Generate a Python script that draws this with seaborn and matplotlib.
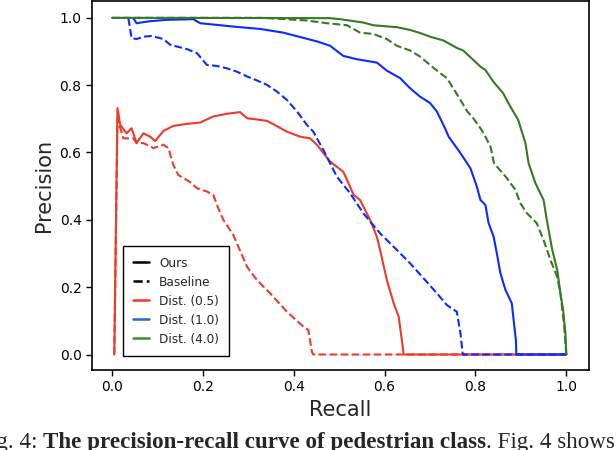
import numpy as np
import pandas as pd
import matplotlib
matplotlib.use("Agg")
import matplotlib.pyplot as plt
from matplotlib.lines import Line2D
import seaborn as sns

# values
ours_05_r = [0.005, 0.012, 0.018, 0.032, 0.043, 0.054, 0.069, 0.084, 0.095, 0.113, 0.135, 0.165, 0.194,
             0.223, 0.253, 0.282, 0.297, 0.341, 0.355, 0.385, 0.414, 0.436, 0.451, 0.480, 0.509, 0.532,
             0.546, 0.568, 0.583, 0.590, 0.605, 0.620, 0.631, 0.638, 0.642, 1.0]
ours_05_p = [0.0, 0.732, 0.682, 0.657, 0.672, 0.628, 0.657, 0.647, 0.634, 0.664, 0.679, 0.685, 0.689,
             0.707, 0.715, 0.720, 0.702, 0.694, 0.684, 0.662, 0.647, 0.642, 0.623, 0.573, 0.543, 0.474,
             0.459, 0.400, 0.350, 0.311, 0.221, 0.152, 0.112, 0.043, 0.0, 0.0]

base_05_r = [0.005, 0.012, 0.025, 0.047, 0.054, 0.069, 0.091, 0.113, 0.124, 0.135, 0.146, 0.172, 0.187,
             0.209, 0.223, 0.234, 0.245, 0.267, 0.275, 0.297, 0.319, 0.348, 0.385, 0.421, 0.432, 0.440,
             0.443, 1.0]
base_05_p = [0.0, 0.700, 0.642, 0.642, 0.628, 0.628, 0.613, 0.623, 0.613, 0.563, 0.533, 0.512, 0.494,
             0.484, 0.474, 0.434, 0.400, 0.355, 0.330, 0.261, 0.221, 0.182, 0.127, 0.083, 0.073, 0.008,
             0.0, 0.0]

ours_10_r = [0.047, 0.054, 0.084, 0.120, 0.179, 0.194, 0.231, 0.267, 0.326, 0.377, 0.414, 0.451, 0.480,
             0.509, 0.539, 0.583, 0.605, 0.634, 0.656, 0.678, 0.700, 0.715, 0.733, 0.741, 0.767, 0.789,
             0.803, 0.811, 0.822, 0.829, 0.840, 0.847, 0.855, 0.866, 0.880, 0.884, 0.889, 0.890, 1.0]
ours_10_p = [0.999, 0.984, 0.990, 0.994, 0.996, 0.984, 0.979, 0.974, 0.967, 0.956, 0.943, 0.930, 0.917,
             0.887, 0.877, 0.867, 0.843, 0.821, 0.791, 0.766, 0.747, 0.722, 0.672, 0.647, 0.598, 0.553,
             0.499, 0.459, 0.444, 0.390, 0.350, 0.301, 0.241, 0.192, 0.152, 0.103, 0.043, 0.0, 0.0]

base_10_r = [0.036, 0.043, 0.054, 0.069, 0.087, 0.113, 0.128, 0.165, 0.187, 0.209, 0.231, 0.253, 0.275,
             0.297, 0.319, 0.341, 0.363, 0.385, 0.407, 0.429, 0.443, 0.465, 0.495, 0.524, 0.553, 0.590,
             0.620, 0.656, 0.686, 0.715, 0.737, 0.759, 0.767, 0.772, 1.0]
base_10_p = [0.999, 0.940, 0.937, 0.944, 0.946, 0.937, 0.920, 0.907, 0.895, 0.860, 0.857, 0.850, 0.840,
             0.826, 0.814, 0.801, 0.781, 0.756, 0.722, 0.682, 0.662, 0.608, 0.528, 0.479, 0.420, 0.360,
             0.320, 0.271, 0.226, 0.182, 0.147, 0.127, 0.063, 0.0, 0.0]

ours_40_r = [0.0, 0.480, 0.502, 0.553, 0.575, 0.628, 0.656, 0.678, 0.700, 0.729, 0.760, 0.773, 0.789,
             0.811, 0.822, 0.839, 0.861, 0.877, 0.894, 0.910, 0.917, 0.932, 0.950, 0.957, 0.969, 0.980,
             0.987, 0.993, 0.998, 1.0]
ours_40_p = [1.0, 0.999, 0.996, 0.986, 0.978, 0.972, 0.964, 0.955, 0.944, 0.933, 0.910, 0.903, 0.883,
             0.855, 0.845, 0.811, 0.776, 0.736, 0.697, 0.628, 0.568, 0.509, 0.459, 0.400, 0.311, 0.251,
             0.182, 0.132, 0.063, 0.0]

base_40_r = [0.0, 0.333, 0.429, 0.473, 0.517, 0.546, 0.575, 0.605, 0.627, 0.656, 0.678, 0.700, 0.722,
             0.737, 0.751, 0.767, 0.782, 0.795, 0.811, 0.818, 0.833, 0.841, 0.869, 0.888, 0.899, 0.913,
             0.935, 0.950, 0.965, 0.980, 0.987, 0.995, 1.0]
base_40_p = [1.0, 1.0, 0.992, 0.984, 0.978, 0.956, 0.952, 0.937, 0.917, 0.903, 0.885, 0.860, 0.836,
             0.821, 0.791, 0.756, 0.722, 0.702, 0.672, 0.657, 0.618, 0.568, 0.524, 0.489, 0.449, 0.420,
             0.390, 0.340, 0.281, 0.231, 0.182, 0.090, 0.0]

series = [
    ("Dist. (0.5)", "Ours", ours_05_r, ours_05_p),
    ("Dist. (0.5)", "Baseline", base_05_r, base_05_p),
    ("Dist. (1.0)", "Ours", ours_10_r, ours_10_p),
    ("Dist. (1.0)", "Baseline", base_10_r, base_10_p),
    ("Dist. (4.0)", "Ours", ours_40_r, ours_40_p),
    ("Dist. (4.0)", "Baseline", base_40_r, base_40_p),
]

frames = []
for dist, method, r, p in series:
    frames.append(pd.DataFrame({"Recall": r, "Precision": p, "dist": dist, "method": method,
                                "run": dist + method}))
df = pd.concat(frames, ignore_index=True)

line_colors = {"Dist. (0.5)": "#ec3a2b", "Dist. (1.0)": "#0a2cff", "Dist. (4.0)": "#357a22"}
legend_colors = {"Dist. (0.5)": "#ec3a2b", "Dist. (1.0)": "#2a62d8", "Dist. (4.0)": "#3f8a30"}

sns.set_style("ticks")
plt.rcParams["font.family"] = ["DejaVu Sans"]

fig = plt.figure(figsize=(6.16, 4.5), dpi=100)
ax = fig.add_axes([0.1494, 0.1778, 0.8068, 0.82])

sns.lineplot(data=df, x="Recall", y="Precision", hue="dist", style="method", units="run",
             estimator=None, sort=False, palette=line_colors,
             dashes={"Ours": "", "Baseline": (3.7, 1.6)}, linewidth=1.5, legend=False, ax=ax)

ax.set_xlim(-0.044, 1.05)
ax.set_ylim(-0.046, 1.05)
ax.set_xticks([0.0, 0.2, 0.4, 0.6, 0.8, 1.0])
ax.set_yticks([0.0, 0.2, 0.4, 0.6, 0.8, 1.0])
ax.tick_params(labelsize=10, length=4, width=1, color="black", labelcolor="black")
for s in ax.spines.values():
    s.set_visible(True)
    s.set_color("black")
    s.set_linewidth(1.2)
ax.set_xlabel("Recall", fontsize=15)
ax.set_ylabel("Precision", fontsize=15)

handles = [Line2D([], [], color="black", lw=1.8, ls="-", label="Ours"),
           Line2D([], [], color="black", lw=1.8, ls="--", label="Baseline")]
for k, c in legend_colors.items():
    handles.append(Line2D([], [], color=c, lw=1.8, label=k))
leg = ax.legend(handles=handles, loc="lower left", bbox_to_anchor=(0.062, 0.038), borderaxespad=0,
                fontsize=8.7, fancybox=False, framealpha=1, edgecolor="black",
                handlelength=1.3, handletextpad=0.85, borderpad=0.85, labelspacing=0.5)
leg.get_frame().set_linewidth(1.0)

# caption fragment, cut off at the edges of the picture like in the source
t1 = fig.text(-0.038, 0.004, "Fig. 4: ", family="Liberation Serif", fontsize=16.6, va="baseline")
t2 = ax.annotate("The precision-recall curve of pedestrian class", xy=(1, 0), xycoords=t1,
                 va="bottom", family="Liberation Serif", fontsize=16.6, weight="bold",
                 annotation_clip=False)
ax.annotate(". Fig. 4 shows", xy=(1, 0), xycoords=t2, va="bottom",
            family="Liberation Serif", fontsize=16.6, annotation_clip=False)

fig.savefig("out.png", dpi=100)
